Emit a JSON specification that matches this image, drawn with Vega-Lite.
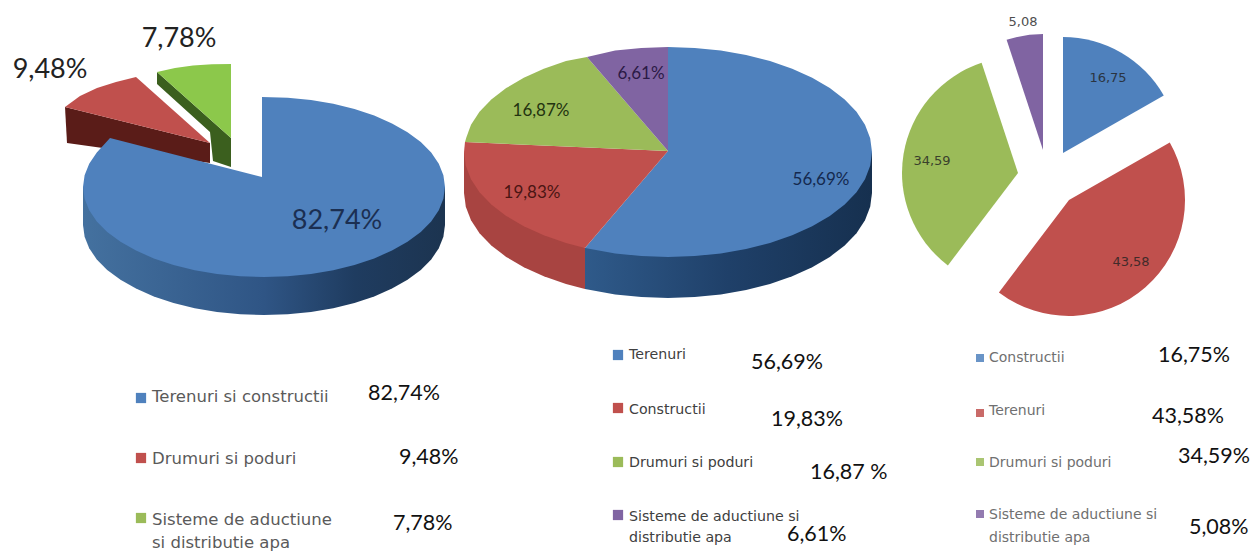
{"$schema":"https://vega.github.io/schema/vega-lite/v6.json","width":1252,"height":552,"padding":0,"autosize":{"type":"none"},"background":"white","config":{"view":{"stroke":null}},
"datasets":{
"sides":[
{"shape":"Lside","i":1,"x":83,"y":187},{"shape":"Lside","i":2,"x":83,"y":225},{"shape":"Lside","i":2.5,"x":84.6,"y":236.8},{"shape":"Lside","i":3,"x":89.2,"y":248.3},{"shape":"Lside","i":3.5,"x":96.8,"y":259.5},{"shape":"Lside","i":4,"x":107.2,"y":270},{"shape":"Lside","i":4.5,"x":120.5,"y":279.8},{"shape":"Lside","i":5,"x":136,"y":288.6},{"shape":"Lside","i":5.5,"x":153.8,"y":296.4},{"shape":"Lside","i":6,"x":173.5,"y":303},{"shape":"Lside","i":6.5,"x":194.7,"y":308.2},{"shape":"Lside","i":7,"x":217,"y":312},{"shape":"Lside","i":7.5,"x":240.3,"y":314.2},{"shape":"Lside","i":8,"x":264,"y":315},{"shape":"Lside","i":8.5,"x":287.7,"y":314.2},{"shape":"Lside","i":9,"x":311,"y":312},{"shape":"Lside","i":9.5,"x":333.3,"y":308.2},{"shape":"Lside","i":10,"x":354.5,"y":303},{"shape":"Lside","i":10.5,"x":374.2,"y":296.4},{"shape":"Lside","i":11,"x":392,"y":288.6},{"shape":"Lside","i":11.5,"x":407.5,"y":279.8},{"shape":"Lside","i":12,"x":420.8,"y":270},{"shape":"Lside","i":12.5,"x":431.2,"y":259.5},{"shape":"Lside","i":13,"x":438.8,"y":248.3},{"shape":"Lside","i":13.5,"x":443.4,"y":236.8},{"shape":"Lside","i":14,"x":445,"y":225},{"shape":"Lside","i":15,"x":445,"y":187},
{"shape":"Mside","i":1,"x":585,"y":248},{"shape":"Mside","i":2,"x":585,"y":289},{"shape":"Mside","i":3,"x":615.2,"y":294.4},{"shape":"Mside","i":3.5,"x":641.3,"y":297.1},{"shape":"Mside","i":4,"x":668,"y":298},{"shape":"Mside","i":4.5,"x":694.7,"y":297.1},{"shape":"Mside","i":5,"x":720.8,"y":294.4},{"shape":"Mside","i":5.5,"x":746.1,"y":290},{"shape":"Mside","i":6,"x":770,"y":284},{"shape":"Mside","i":6.5,"x":792.2,"y":276.3},{"shape":"Mside","i":7,"x":812.2,"y":267.2},{"shape":"Mside","i":7.5,"x":829.8,"y":256.9},{"shape":"Mside","i":8,"x":844.7,"y":245.5},{"shape":"Mside","i":8.5,"x":856.5,"y":233.2},{"shape":"Mside","i":9,"x":865,"y":220.2},{"shape":"Mside","i":9.5,"x":870.2,"y":206.8},{"shape":"Mside","i":10,"x":872,"y":193},{"shape":"Mside","i":11,"x":872,"y":152}
],
"faces":[
{"shape":"LgreenSide","tone":"darkgreen","i":1,"x":157,"y":72},{"shape":"LgreenSide","tone":"darkgreen","i":2,"x":231,"y":138},{"shape":"LgreenSide","tone":"darkgreen","i":3,"x":231,"y":167},{"shape":"LgreenSide","tone":"darkgreen","i":4,"x":213,"y":161},{"shape":"LgreenSide","tone":"darkgreen","i":5,"x":210,"y":132},{"shape":"LgreenSide","tone":"darkgreen","i":6,"x":157,"y":84},
{"shape":"LgreenTop","tone":"lime","i":1,"x":157,"y":72},{"shape":"LgreenTop","tone":"lime","i":2,"x":175,"y":68},{"shape":"LgreenTop","tone":"lime","i":3,"x":193,"y":65.5},{"shape":"LgreenTop","tone":"lime","i":4,"x":212,"y":64.3},{"shape":"LgreenTop","tone":"lime","i":5,"x":231,"y":64},{"shape":"LgreenTop","tone":"lime","i":6,"x":231,"y":138},
{"shape":"LredSide","tone":"darkred","i":1,"x":65,"y":107},{"shape":"LredSide","tone":"darkred","i":2,"x":210,"y":143},{"shape":"LredSide","tone":"darkred","i":3,"x":210,"y":163},{"shape":"LredSide","tone":"darkred","i":4,"x":67,"y":143},
{"shape":"LredTop","tone":"red","i":1,"x":65,"y":107},{"shape":"LredTop","tone":"red","i":2,"x":80,"y":96},{"shape":"LredTop","tone":"red","i":3,"x":97,"y":88},{"shape":"LredTop","tone":"red","i":4,"x":116,"y":82},{"shape":"LredTop","tone":"red","i":5,"x":136,"y":77},{"shape":"LredTop","tone":"red","i":6,"x":210,"y":143},
{"shape":"LblueTop","tone":"blue","i":1,"x":262,"y":177},{"shape":"LblueTop","tone":"blue","i":2,"x":262,"y":97},{"shape":"LblueTop","tone":"blue","i":2.5,"x":287.7,"y":97.8},{"shape":"LblueTop","tone":"blue","i":3,"x":311,"y":100},{"shape":"LblueTop","tone":"blue","i":3.5,"x":333.3,"y":103.8},{"shape":"LblueTop","tone":"blue","i":4,"x":354.5,"y":109},{"shape":"LblueTop","tone":"blue","i":4.5,"x":374.2,"y":115.6},{"shape":"LblueTop","tone":"blue","i":5,"x":392,"y":123.4},{"shape":"LblueTop","tone":"blue","i":5.5,"x":407.5,"y":132.2},{"shape":"LblueTop","tone":"blue","i":6,"x":420.8,"y":142},{"shape":"LblueTop","tone":"blue","i":6.5,"x":431.2,"y":152.5},{"shape":"LblueTop","tone":"blue","i":7,"x":438.8,"y":163.7},{"shape":"LblueTop","tone":"blue","i":7.5,"x":443.4,"y":175.2},{"shape":"LblueTop","tone":"blue","i":8,"x":445,"y":187},{"shape":"LblueTop","tone":"blue","i":8.5,"x":443.4,"y":198.8},{"shape":"LblueTop","tone":"blue","i":9,"x":438.8,"y":210.3},{"shape":"LblueTop","tone":"blue","i":9.5,"x":431.2,"y":221.5},{"shape":"LblueTop","tone":"blue","i":10,"x":420.8,"y":232},{"shape":"LblueTop","tone":"blue","i":10.5,"x":407.5,"y":241.8},{"shape":"LblueTop","tone":"blue","i":11,"x":392,"y":250.6},{"shape":"LblueTop","tone":"blue","i":11.5,"x":374.2,"y":258.4},{"shape":"LblueTop","tone":"blue","i":12,"x":354.5,"y":265},{"shape":"LblueTop","tone":"blue","i":12.5,"x":333.3,"y":270.2},{"shape":"LblueTop","tone":"blue","i":13,"x":311,"y":274},{"shape":"LblueTop","tone":"blue","i":13.5,"x":287.7,"y":276.2},{"shape":"LblueTop","tone":"blue","i":14,"x":264,"y":277},{"shape":"LblueTop","tone":"blue","i":14.5,"x":240.3,"y":276.2},{"shape":"LblueTop","tone":"blue","i":15,"x":217,"y":274},{"shape":"LblueTop","tone":"blue","i":15.5,"x":194.7,"y":270.2},{"shape":"LblueTop","tone":"blue","i":16,"x":173.5,"y":265},{"shape":"LblueTop","tone":"blue","i":16.5,"x":153.8,"y":258.4},{"shape":"LblueTop","tone":"blue","i":17,"x":136,"y":250.6},{"shape":"LblueTop","tone":"blue","i":17.5,"x":120.5,"y":241.8},{"shape":"LblueTop","tone":"blue","i":18,"x":107.2,"y":232},{"shape":"LblueTop","tone":"blue","i":18.5,"x":96.8,"y":221.5},{"shape":"LblueTop","tone":"blue","i":19,"x":89.2,"y":210.3},{"shape":"LblueTop","tone":"blue","i":19.5,"x":84.6,"y":198.8},{"shape":"LblueTop","tone":"blue","i":20,"x":83,"y":187},{"shape":"LblueTop","tone":"blue","i":20.5,"x":84.6,"y":175.2},{"shape":"LblueTop","tone":"blue","i":21,"x":89.2,"y":163.7},{"shape":"LblueTop","tone":"blue","i":21.5,"x":96.8,"y":152.5},{"shape":"LblueTop","tone":"blue","i":22,"x":110,"y":138},
{"shape":"MredSide","tone":"sidered","i":1,"x":464,"y":152},{"shape":"MredSide","tone":"sidered","i":2,"x":464,"y":193},{"shape":"MredSide","tone":"sidered","i":2.5,"x":465.8,"y":206.8},{"shape":"MredSide","tone":"sidered","i":3,"x":471,"y":220.2},{"shape":"MredSide","tone":"sidered","i":3.5,"x":479.5,"y":233.2},{"shape":"MredSide","tone":"sidered","i":4,"x":491.3,"y":245.5},{"shape":"MredSide","tone":"sidered","i":4.5,"x":506.2,"y":256.9},{"shape":"MredSide","tone":"sidered","i":5,"x":523.8,"y":267.2},{"shape":"MredSide","tone":"sidered","i":5.5,"x":543.8,"y":276.3},{"shape":"MredSide","tone":"sidered","i":6,"x":566,"y":284},{"shape":"MredSide","tone":"sidered","i":7,"x":585,"y":289},{"shape":"MredSide","tone":"sidered","i":8,"x":585,"y":248},
{"shape":"MblueTop","tone":"blue","i":1,"x":668,"y":151},{"shape":"MblueTop","tone":"blue","i":2,"x":668,"y":47},{"shape":"MblueTop","tone":"blue","i":2.5,"x":694.7,"y":47.9},{"shape":"MblueTop","tone":"blue","i":3,"x":720.8,"y":50.6},{"shape":"MblueTop","tone":"blue","i":3.5,"x":746.1,"y":55},{"shape":"MblueTop","tone":"blue","i":4,"x":770,"y":61},{"shape":"MblueTop","tone":"blue","i":4.5,"x":792.2,"y":68.7},{"shape":"MblueTop","tone":"blue","i":5,"x":812.2,"y":77.8},{"shape":"MblueTop","tone":"blue","i":5.5,"x":829.8,"y":88.1},{"shape":"MblueTop","tone":"blue","i":6,"x":844.7,"y":99.5},{"shape":"MblueTop","tone":"blue","i":6.5,"x":856.5,"y":111.8},{"shape":"MblueTop","tone":"blue","i":7,"x":865,"y":124.8},{"shape":"MblueTop","tone":"blue","i":7.5,"x":870.2,"y":138.2},{"shape":"MblueTop","tone":"blue","i":8,"x":872,"y":152},{"shape":"MblueTop","tone":"blue","i":8.5,"x":870.2,"y":165.8},{"shape":"MblueTop","tone":"blue","i":9,"x":865,"y":179.2},{"shape":"MblueTop","tone":"blue","i":9.5,"x":856.5,"y":192.2},{"shape":"MblueTop","tone":"blue","i":10,"x":844.7,"y":204.5},{"shape":"MblueTop","tone":"blue","i":10.5,"x":829.8,"y":215.9},{"shape":"MblueTop","tone":"blue","i":11,"x":812.2,"y":226.2},{"shape":"MblueTop","tone":"blue","i":11.5,"x":792.2,"y":235.3},{"shape":"MblueTop","tone":"blue","i":12,"x":770,"y":243},{"shape":"MblueTop","tone":"blue","i":12.5,"x":746.1,"y":249},{"shape":"MblueTop","tone":"blue","i":13,"x":720.8,"y":253.4},{"shape":"MblueTop","tone":"blue","i":13.5,"x":694.7,"y":256.1},{"shape":"MblueTop","tone":"blue","i":14,"x":668,"y":257},{"shape":"MblueTop","tone":"blue","i":14.5,"x":641.3,"y":256.1},{"shape":"MblueTop","tone":"blue","i":15,"x":615.2,"y":253.4},{"shape":"MblueTop","tone":"blue","i":16,"x":585,"y":248},
{"shape":"MredTop","tone":"red","i":1,"x":668,"y":151},{"shape":"MredTop","tone":"red","i":2,"x":585,"y":248},{"shape":"MredTop","tone":"red","i":3,"x":566,"y":243},{"shape":"MredTop","tone":"red","i":3.5,"x":543.8,"y":235.3},{"shape":"MredTop","tone":"red","i":4,"x":523.8,"y":226.2},{"shape":"MredTop","tone":"red","i":4.5,"x":506.2,"y":215.9},{"shape":"MredTop","tone":"red","i":5,"x":491.3,"y":204.5},{"shape":"MredTop","tone":"red","i":5.5,"x":479.5,"y":192.2},{"shape":"MredTop","tone":"red","i":6,"x":471,"y":179.2},{"shape":"MredTop","tone":"red","i":6.5,"x":465.8,"y":165.8},{"shape":"MredTop","tone":"red","i":7,"x":464,"y":152},{"shape":"MredTop","tone":"red","i":8,"x":465,"y":142},
{"shape":"MgreenTop","tone":"green","i":1,"x":668,"y":151},{"shape":"MgreenTop","tone":"green","i":2,"x":465,"y":142},{"shape":"MgreenTop","tone":"green","i":2.5,"x":466.5,"y":137},{"shape":"MgreenTop","tone":"green","i":3,"x":471,"y":124.8},{"shape":"MgreenTop","tone":"green","i":3.5,"x":479.5,"y":111.8},{"shape":"MgreenTop","tone":"green","i":4,"x":491.3,"y":99.5},{"shape":"MgreenTop","tone":"green","i":4.5,"x":506.2,"y":88.1},{"shape":"MgreenTop","tone":"green","i":5,"x":523.8,"y":77.8},{"shape":"MgreenTop","tone":"green","i":5.5,"x":543.8,"y":68.7},{"shape":"MgreenTop","tone":"green","i":6,"x":566,"y":61},{"shape":"MgreenTop","tone":"green","i":7,"x":587,"y":57},
{"shape":"MpurpleTop","tone":"purple","i":1,"x":668,"y":151},{"shape":"MpurpleTop","tone":"purple","i":2,"x":587,"y":57},{"shape":"MpurpleTop","tone":"purple","i":3,"x":615.2,"y":50.6},{"shape":"MpurpleTop","tone":"purple","i":3.5,"x":641.3,"y":47.9},{"shape":"MpurpleTop","tone":"purple","i":4,"x":668,"y":47}
],
"exploded":[
{"idx":1,"name":"Constructii","share":16.75,"tone":"blue","x":1063,"y":153},
{"idx":2,"name":"Terenuri","share":43.58,"tone":"red","x":1069,"y":200},
{"idx":3,"name":"Drumuri si poduri","share":34.59,"tone":"green","x":1018,"y":173},
{"idx":4,"name":"Sisteme de aductiune si distributie apa","share":5.08,"tone":"purple","x":1043,"y":150}
],
"swatches":[
{"tone":"blue","x":141,"y":398},{"tone":"red","x":141,"y":458},{"tone":"green","x":141,"y":518},
{"tone":"blue","x":618,"y":355},{"tone":"red","x":618,"y":408},{"tone":"green","x":618,"y":462},{"tone":"purple","x":618,"y":515},
{"tone":"blue","x":980,"y":358},{"tone":"red","x":980,"y":413},{"tone":"green","x":980,"y":462},{"tone":"purple","x":980,"y":514}
]
},
"encoding":{
"x":{"field":"x","type":"quantitative","scale":{"domain":[0,1252]},"axis":null},
"y":{"field":"y","type":"quantitative","scale":{"domain":[552,0]},"axis":null}
},
"layer":[
{"data":{"name":"sides"},"transform":[{"filter":"datum.shape=='Lside'"}],"mark":{"type":"line","stroke":null,"fill":{"gradient":"linear","x1":0,"x2":1,"y1":0,"y2":0,"stops":[{"offset":0,"color":"#44719f"},{"offset":0.5,"color":"#2f5585"},{"offset":0.75,"color":"#1f3c60"},{"offset":1,"color":"#1c3450"}]}},"encoding":{"order":{"field":"i","type":"quantitative"}}},
{"data":{"name":"sides"},"transform":[{"filter":"datum.shape=='Mside'"}],"mark":{"type":"line","stroke":null,"fill":{"gradient":"linear","x1":0,"x2":1,"y1":0,"y2":0,"stops":[{"offset":0,"color":"#2f5a8a"},{"offset":0.5,"color":"#1f4069"},{"offset":1,"color":"#16304f"}]}},"encoding":{"order":{"field":"i","type":"quantitative"}}},
{"data":{"name":"faces"},"mark":{"type":"line","stroke":null},"encoding":{"order":{"field":"i","type":"quantitative"},"detail":{"field":"shape"},"fill":{"field":"tone","type":"nominal","legend":null,"scale":{"domain":["blue","red","green","purple","lime","darkred","darkgreen","sidered"],"range":["#4F81BD","#C0504D","#9BBB59","#8064A2","#8CC84B","#5A1C18","#3B5F1E","#A84441"]}}}},
{"data":{"name":"exploded"},"transform":[{"stack":"share","groupby":[],"as":["a0","a1"]}],"mark":{"type":"arc","outerRadius":116},"encoding":{"theta":{"field":"a0","type":"quantitative","scale":{"domain":[0,100],"range":[0,6.2832]}},"theta2":{"field":"a1"},"fill":{"field":"tone","type":"nominal","legend":null,"scale":{"domain":["blue","red","green","purple","lime","darkred","darkgreen","sidered"],"range":["#4F81BD","#C0504D","#9BBB59","#8064A2","#8CC84B","#5A1C18","#3B5F1E","#A84441"]}}}},
{"data":{"name":"swatches"},"transform":[{"filter":"datum.x<900"}],"mark":{"type":"point","shape":"square","filled":true,"size":105,"opacity":1},"encoding":{"fill":{"field":"tone","type":"nominal","legend":null,"scale":{"domain":["blue","red","green","purple","lime","darkred","darkgreen","sidered"],"range":["#4F81BD","#C0504D","#9BBB59","#8064A2","#8CC84B","#5A1C18","#3B5F1E","#A84441"]}}}},
{"data":{"name":"swatches"},"transform":[{"filter":"datum.x>900"}],"mark":{"type":"point","shape":"square","filled":true,"size":64,"opacity":0.85},"encoding":{"fill":{"field":"tone","type":"nominal","legend":null,"scale":{"domain":["blue","red","green","purple","lime","darkred","darkgreen","sidered"],"range":["#4F81BD","#C0504D","#9BBB59","#8064A2","#8CC84B","#5A1C18","#3B5F1E","#A84441"]}}}},
{"data":{"values":[{"t":"7,78%","x":179,"y":39},{"t":"9,48%","x":50,"y":70}]},"mark":{"type":"text","font":"Lato","fontSize":27,"align":"center","baseline":"middle","color":"#222222"},"encoding":{"text":{"field":"t"}}},
{"data":{"values":[{"t":"82,74%","x":337,"y":221}]},"mark":{"type":"text","font":"Lato","fontSize":27,"align":"center","baseline":"middle","color":"#1B2F52"},"encoding":{"text":{"field":"t"}}},
{"data":{"values":[{"t":"56,69%","x":821,"y":180}]},"mark":{"type":"text","font":"Lato","fontSize":17,"align":"center","baseline":"middle","color":"#14294F"},"encoding":{"text":{"field":"t"}}},
{"data":{"values":[{"t":"19,83%","x":532,"y":193}]},"mark":{"type":"text","font":"Lato","fontSize":17,"align":"center","baseline":"middle","color":"#4A1513"},"encoding":{"text":{"field":"t"}}},
{"data":{"values":[{"t":"16,87%","x":541,"y":111}]},"mark":{"type":"text","font":"Lato","fontSize":17,"align":"center","baseline":"middle","color":"#233310"},"encoding":{"text":{"field":"t"}}},
{"data":{"values":[{"t":"6,61%","x":641,"y":74}]},"mark":{"type":"text","font":"Lato","fontSize":17,"align":"center","baseline":"middle","color":"#2B1A46"},"encoding":{"text":{"field":"t"}}},
{"data":{"values":[{"t":"16,75","x":1108,"y":78},{"t":"43,58","x":1131,"y":262},{"t":"34,59","x":932,"y":161},{"t":"5,08","x":1023,"y":22}]},"mark":{"type":"text","font":"DejaVu Sans","fontSize":13,"align":"center","baseline":"middle","color":"#222222","opacity":0.8},"encoding":{"text":{"field":"t"}}},
{"data":{"values":[{"t":"Terenuri si constructii","x":152,"y":397},{"t":"Drumuri si poduri","x":152,"y":459},{"t":"Sisteme de aductiune","x":152,"y":520},{"t":"si distributie apa","x":152,"y":543}]},"mark":{"type":"text","font":"DejaVu Sans","fontSize":16.5,"align":"left","baseline":"middle","color":"#5a5a5a"},"encoding":{"text":{"field":"t"}}},
{"data":{"values":[{"t":"Terenuri","x":629,"y":355},{"t":"Constructii","x":629,"y":410},{"t":"Drumuri si poduri","x":629,"y":463},{"t":"Sisteme de aductiune si","x":629,"y":517},{"t":"distributie apa","x":629,"y":538}]},"mark":{"type":"text","font":"DejaVu Sans","fontSize":14.2,"align":"left","baseline":"middle","color":"#404040"},"encoding":{"text":{"field":"t"}}},
{"data":{"values":[{"t":"Constructii","x":989,"y":358},{"t":"Terenuri","x":989,"y":411},{"t":"Drumuri si poduri","x":989,"y":463},{"t":"Sisteme de aductiune si","x":989,"y":515},{"t":"distributie apa","x":989,"y":538}]},"mark":{"type":"text","font":"DejaVu Sans","fontSize":14,"align":"left","baseline":"middle","color":"#707070"},"encoding":{"text":{"field":"t"}}},
{"data":{"values":[{"t":"82,74%","x":368,"y":394},{"t":"9,48%","x":399,"y":458},{"t":"7,78%","x":393,"y":524},{"t":"56,69%","x":751,"y":363},{"t":"19,83%","x":771,"y":420},{"t":"16,87 %","x":810,"y":473},{"t":"6,61%","x":787,"y":535},{"t":"16,75%","x":1158,"y":356},{"t":"43,58%","x":1152,"y":417},{"t":"34,59%","x":1178,"y":457},{"t":"5,08%","x":1189,"y":528}]},"mark":{"type":"text","font":"Lato","fontSize":21.5,"align":"left","baseline":"middle","color":"#111111"},"encoding":{"text":{"field":"t"}}}
]}
